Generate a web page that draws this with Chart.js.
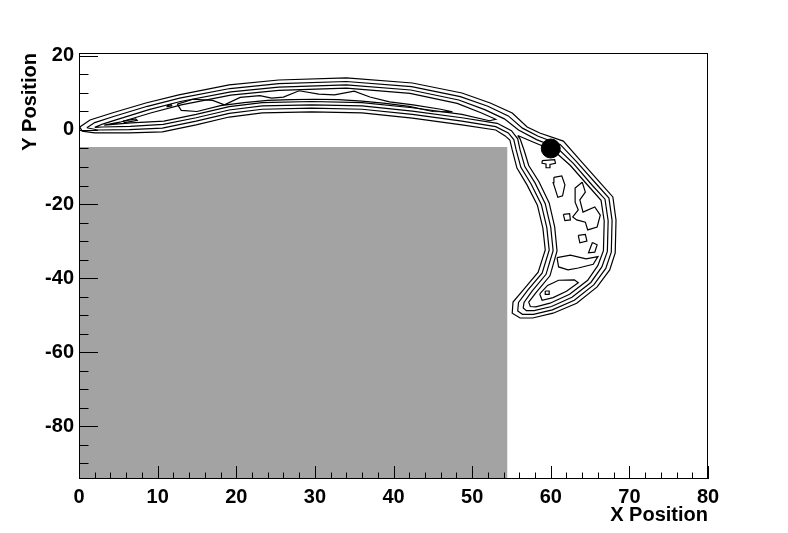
<!DOCTYPE html>
<html>
<head>
<meta charset="utf-8">
<script src="https://cdn.jsdelivr.net/npm/chart.js@4.4.1/dist/chart.umd.min.js"></script>
<style>
  body { margin: 0; background: #fff; }
  #wrap { width: 788px; height: 533px; }
</style>
</head>
<body>
<div id="wrap"><canvas id="chart" width="788" height="533"></canvas></div>
<script>
// axes
var xRange = [0, 80];
var yRange = [-94.3, 20.8];
var xTicks = [0, 10, 20, 30, 40, 50, 60, 70, 80];
var yTicks = [-80, -60, -40, -20, 0, 20];

// grey box and marker
var shadedBox = [[0, -4.6], [54.5, -4.6]];
var marker = [[60, -5]];

// contour lines (outer -> inner)
var contour1 = [
  [0.1,0.8],[1.4,2.7],[4.2,4.6],[8.5,7.3],[12.7,9.5],[19.1,12.2],[25.4,13.5],[34.0,14.1],[42.4,12.7],
  [48.7,10.0],[52.3,7.3],[55.1,4.6],[57.0,0.8],[58.6,-0.8],[61.6,-3.0],[63.7,-8.1],[66.3,-14.3],
  [67.9,-18.1],[68.3,-24.3],[68.2,-33.2],[67.5,-37.8],[65.9,-42.4],[63.3,-46.8],[60.3,-49.5],
  [57.7,-50.8],[56.1,-50.8],[55.1,-49.5],[55.2,-46.5],[56.7,-42.7],[58.4,-38.4],[59.3,-32.4],
  [59.0,-26.5],[58.3,-20.3],[57.0,-14.9],[55.7,-10.3],[55.1,-5.4],[54.8,-2.7],[54.2,-1.6],
  [53.0,0],[48.7,1.4],[42.4,3.2],[36.0,4.6],[29.6,4.9],[23.3,4.6],[19.1,3.5],[14.9,1.4],
  [10.6,-0.5],[6.4,-0.8],[2.0,-0.8],[0.4,-0.3],[0.1,0.8]
];
var contour2 = [
  [1.0,0.6],[2.0,2.0],[4.5,3.7],[8.7,6.4],[12.8,8.6],[19.2,11.2],[25.4,12.5],[34.0,13.1],[42.3,11.7],
  [48.5,9.0],[52.0,6.4],[54.6,3.8],[56.4,0.5],[58.4,-1.7],[61.2,-3.9],[63.3,-8.6],[65.8,-14.6],
  [67.4,-18.4],[67.8,-24.4],[67.7,-33.0],[67.0,-37.4],[65.5,-41.8],[63.0,-46.0],[60.2,-48.6],
  [57.8,-49.8],[56.4,-49.8],[55.8,-48.9],[55.9,-46.6],[57.1,-43.2],[58.9,-38.7],[59.8,-32.5],
  [59.5,-26.4],[58.8,-20.1],[57.5,-14.6],[56.2,-10.1],[55.6,-5.4],[55.3,-2.6],[54.6,-0.8],
  [53.0,0.9],[48.7,2.4],[42.4,4.2],[36.0,5.6],[29.6,5.9],[23.3,5.6],[19.1,4.5],[14.9,2.4],
  [10.6,0.5],[6.4,0.1],[2.4,0.0],[1.0,0.6]
];
var contour3 = [
  [2.0,0.7],[3.0,1.6],[4.8,2.8],[8.9,5.5],[12.9,7.7],[19.3,10.3],[25.4,11.6],[34.0,12.2],[42.2,10.8],
  [48.3,8.1],[51.6,5.5],[54.1,3.0],[55.9,0],[58.2,-2.6],[60.8,-4.8],[62.9,-9.1],[65.3,-15.0],
  [66.9,-18.7],[67.3,-24.5],[67.2,-32.8],[66.5,-37.0],[65.1,-41.2],[62.7,-45.2],[60.1,-47.7],
  [57.9,-48.8],[56.9,-48.8],[56.5,-48.1],[56.6,-46.6],[57.6,-43.6],[59.4,-39.0],[60.3,-32.6],
  [60.0,-26.3],[59.3,-19.9],[58.0,-14.3],[56.7,-9.9],[56.1,-5.4],[55.8,-2.4],[55.0,-0.2],
  [53.2,1.8],[48.7,3.3],[42.4,5.1],[36.0,6.5],[29.6,6.8],[23.3,6.5],[19.1,5.4],[14.9,3.3],
  [10.7,1.5],[6.5,1.0],[3.0,0.8],[2.0,0.7]
];
var contour4Top = [
  [3.2,1.3],[5.2,2.1],[9.1,4.6],[13.0,6.8],[19.3,9.4],[25.4,10.7],[34.0,11.3],[42.1,9.9],[48.1,7.2],
  [51.2,4.6],[53.0,2.9],[52.2,2.5],[48.7,4.2],[42.4,6.0],[36.0,7.4],[29.6,7.7],[23.3,7.4],
  [19.1,6.3],[14.9,4.2],[10.8,2.4],[6.6,1.9],[3.2,1.3]
];
var contour4Right = [
  [55.8,-1.5],[57.9,-3.4],[60.4,-5.6],[62.5,-9.6],[64.9,-15.4],[66.4,-19.0],[66.8,-24.6],[66.7,-32.6],
  [66.0,-36.6],[64.7,-40.6],[62.4,-44.4],[59.9,-46.8],[58.1,-47.8],[57.4,-47.7],[57.2,-46.5],
  [58.1,-44.0],[59.9,-39.4],[60.8,-32.7],[60.5,-26.2],[59.8,-19.7],[58.5,-14.0],[57.2,-9.6],
  [56.6,-5.4],[56.1,-2.4],[55.8,-1.5]
];

// innermost islands
var islandTop = [
  [12.5,7.0],[14.5,8.3],[17.0,8.0],[18.5,6.8],[20.5,8.8],[23.0,9.3],[24.5,8.6],[26.0,8.9],[28.0,10.6],
  [30.5,9.7],[32.5,9.5],[35.0,10.5],[37.0,8.9],[39.5,7.6],[42.5,6.8],[46.0,5.6],[47.5,4.9],[45.0,5.0],
  [42.0,6.4],[39.0,7.2],[36.0,7.8],[33.0,8.2],[30.0,8.3],[27.0,8.2],[24.0,8.0],[21.0,7.4],[18.0,6.6],
  [15.0,5.0],[13.0,5.3],[12.5,7.0]
];
var dotLeft = [[5.6,2.4],[7.2,3.0],[7.4,2.6],[5.8,2.0],[5.6,2.4]];
var dotSmall = [[11.2,6.6],[11.7,6.9],[11.8,6.5],[11.3,6.3],[11.2,6.6]];
var islandA = [[58.9,-8.3],[60.5,-8.0],[60.6,-9.0],[59.9,-9.3],[59.9,-10.2],[59.4,-10.2],[59.4,-9.2],[58.9,-9.0],[58.9,-8.3]];
var islandB = [[60.4,-12.8],[61.4,-12.4],[61.8,-14.8],[61.5,-17.8],[60.9,-18.2],[60.5,-15.5],[60.3,-14.2],[60.4,-12.8]];
var islandC = [
  [64.0,-14.1],[64.4,-16.8],[63.7,-18.9],[64.1,-22.2],[65.6,-20.8],[66.3,-23.0],[65.9,-26.2],
  [64.7,-27.0],[64.4,-24.9],[63.3,-24.3],[62.8,-23.5],[63.5,-21.6],[63.1,-19.5],[63.1,-15.7],[64.0,-14.1]
];
var islandD = [[61.6,-22.8],[62.4,-22.6],[62.5,-24.3],[61.8,-24.5],[61.6,-22.8]];
var islandE = [[63.5,-28.5],[64.4,-28.2],[64.6,-30.0],[63.7,-30.5],[63.5,-28.5]];
var islandF = [[65.3,-30.4],[65.9,-31.0],[65.6,-33.0],[64.8,-33.2],[65.3,-30.4]];
var islandG = [[60.8,-34.5],[62.5,-33.8],[64.5,-34.8],[66.0,-34.2],[65.4,-36.3],[63.5,-37.3],[62.2,-37.8],[61.0,-37.0],[60.8,-34.5]];
var islandH = [[58.6,-44.3],[59.6,-42.0],[61.0,-40.6],[63.0,-40.5],[63.5,-41.3],[62.0,-43.6],[60.3,-45.3],[58.9,-46.0],[58.6,-44.3]];
var dotBottom = [[59.3,-43.5],[59.8,-43.5],[59.8,-44.4],[59.3,-44.4],[59.3,-43.5]];

var contours = [contour1, contour2, contour3, contour4Top, contour4Right, islandTop, dotLeft, dotSmall,
  islandA, islandB, islandC, islandD, islandE, islandF, islandG, islandH, dotBottom];

function toXY(arr) {
  return arr.map(function (p) { return { x: p[0], y: p[1] }; });
}

var datasets = [];
datasets.push({
  data: toXY(shadedBox),
  showLine: true,
  borderWidth: 0,
  borderColor: '#a3a3a3',
  backgroundColor: '#a3a3a3',
  fill: 'start',
  pointRadius: 0,
  order: 10
});
contours.forEach(function (c) {
  datasets.push({
    data: toXY(c),
    showLine: true,
    borderColor: '#000',
    borderWidth: 1.2,
    fill: false,
    tension: 0,
    pointRadius: 0,
    order: 5
  });
});
datasets.push({
  data: toXY(marker),
  pointRadius: 9.5,
  pointBackgroundColor: '#000',
  pointBorderColor: '#000',
  pointBorderWidth: 1,
  order: 0
});

//内向きの目盛りと枠
var frameTicks = {
  id: 'frameTicks',
  afterDatasetsDraw: function (chart) {
    var ctx = chart.ctx;
    var a = chart.chartArea;
    var xs = chart.scales.x, ys = chart.scales.y;
    ctx.save();
    ctx.strokeStyle = '#000';
    ctx.lineWidth = 1;
    ctx.beginPath();
    for (var v = xRange[0]; v <= xRange[1]; v += 2) {
      var px = Math.round(xs.getPixelForValue(v)) + 0.5;
      var len = (v % 10 === 0) ? 13 : 6.5;
      ctx.moveTo(px, a.bottom);
      ctx.lineTo(px, a.bottom - len);
    }
    for (var w = -90; w <= yRange[1]; w += 5) {
      var py = Math.round(ys.getPixelForValue(w)) + 0.5;
      var l2 = (w % 20 === 0) ? 19 : 9.5;
      ctx.moveTo(a.left, py);
      ctx.lineTo(a.left + l2, py);
    }
    ctx.stroke();
    ctx.strokeRect(Math.round(a.left) + 0.5, Math.round(a.top) + 0.5,
      Math.round(a.right - a.left) - 1, Math.round(a.bottom - a.top) - 1);
    ctx.restore();
  }
};

var axisFont = { family: '"Liberation Sans", Arial, sans-serif', size: 20, weight: 'bold' };

Chart.register(frameTicks);
var chart = new Chart(document.getElementById('chart'), {
  type: 'scatter',
  data: { datasets: datasets },
  options: {
    responsive: false,
    animation: false,
    devicePixelRatio: 1,
    layout: { padding: { left: 0, top: 53, right: 80, bottom: 0 } },
    plugins: {
      legend: { display: false },
      tooltip: { enabled: false }
    },
    scales: {
      x: {
        type: 'linear',
        min: xRange[0],
        max: xRange[1],
        afterBuildTicks: function (s) { s.ticks = xTicks.map(function (v) { return { value: v }; }); },
        afterFit: function (s) { s.height = 54; },
        grid: { display: false, drawTicks: false },
        border: { display: false },
        ticks: { color: '#000', font: axisFont, padding: 6, maxRotation: 0, autoSkip: false },
        title: { display: true, text: 'X Position', align: 'end', color: '#000', font: axisFont, padding: { top: 0, bottom: 6 } }
      },
      y: {
        type: 'linear',
        min: yRange[0],
        max: yRange[1],
        afterBuildTicks: function (s) { s.ticks = yTicks.map(function (v) { return { value: v }; }); },
        afterFit: function (s) { s.width = 79; },
        grid: { display: false, drawTicks: false },
        border: { display: false },
        ticks: { color: '#000', font: axisFont, padding: 5, autoSkip: false },
        title: { display: true, text: 'Y Position', align: 'end', color: '#000', font: axisFont, padding: { top: 18, bottom: 0 } }
      }
    }
  }
});
</script>
</body>
</html>
